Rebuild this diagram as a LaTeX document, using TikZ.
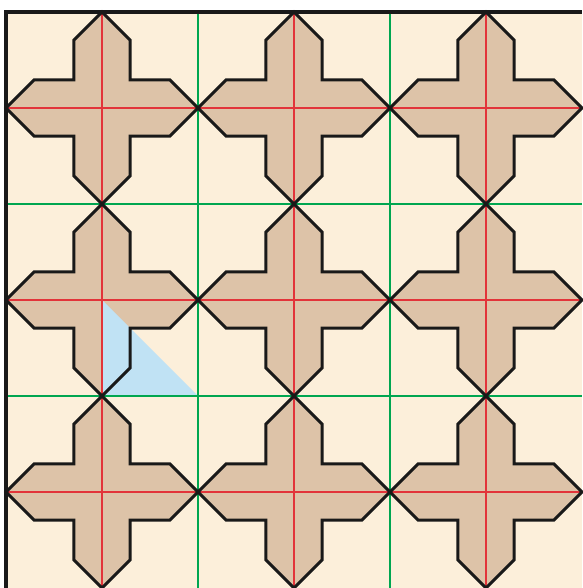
\documentclass[tikz,border=0pt]{standalone}
\usepackage{xcolor}
\usepackage{tikz}
\usetikzlibrary{calc}
\definecolor{paper}{RGB}{252,239,218}
\definecolor{tan}{RGB}{221,195,168}
\definecolor{skyblue}{RGB}{192,226,244}
\definecolor{axisred}{RGB}{226,52,58}
\definecolor{gridgreen}{RGB}{0,166,80}
\tikzstyle{outline} = [draw=black!90, line width=0.9pt, line join=miter]
\tikzstyle{axis} = [draw=axisred, line width=0.55pt]
\tikzstyle{gridline} = [draw=gridgreen, line width=0.65pt]
% arm half width and shoulder of one cross
\newcommand{\arma}{0.2929}
\newcommand{\armb}{0.7071}
\newcommand{\crosspath}[2]{ %
  % cross centred at (#1,#2), tips one unit out
  [shift={(#1,#2)}]
  (0,1) -- (\arma,\armb) -- (\arma,\arma) -- (\armb,\arma) -- (1,0)
  -- (\armb,-\arma) -- (\arma,-\arma) -- (\arma,-\armb) -- (0,-1)
  -- (-\arma,-\armb) -- (-\arma,-\arma) -- (-\armb,-\arma) -- (-1,0)
  -- (-\armb,\arma) -- (-\arma,\arma) -- (-\arma,\armb) -- cycle
}
\begin{document}
\begin{tikzpicture}[x=1cm, y=1cm]
  \useasboundingbox (-0.0625,0) rectangle (6,6.125);
  \fill[paper] (0,0) rectangle (6,6);
  % crosses
  \foreach \cx in {1,3,5} {
    \foreach \cy in {1,3,5} {
      \fill[tan] \crosspath{\cx}{\cy};
    }
  }
  % highlighted triangle
  \fill[skyblue] (1,3) -- (1,2) -- (2,2) -- cycle;
  % axes through the centres
  \foreach \c in {1,3,5} {
    \draw[axis] (\c,0) -- (\c,6);
    \draw[axis] (0,\c) -- (6,\c);
  }
  % cell grid
  \foreach \g in {2,4} {
    \draw[gridline] (\g,0) -- (\g,6);
    \draw[gridline] (0,\g) -- (6,\g);
  }
  % outlines
  \foreach \cx in {1,3,5} {
    \foreach \cy in {1,3,5} {
      \draw[outline] \crosspath{\cx}{\cy};
    }
  }
  \draw[outline] (0,0) -- (0,6) -- (6,6);
\end{tikzpicture}
\end{document}
